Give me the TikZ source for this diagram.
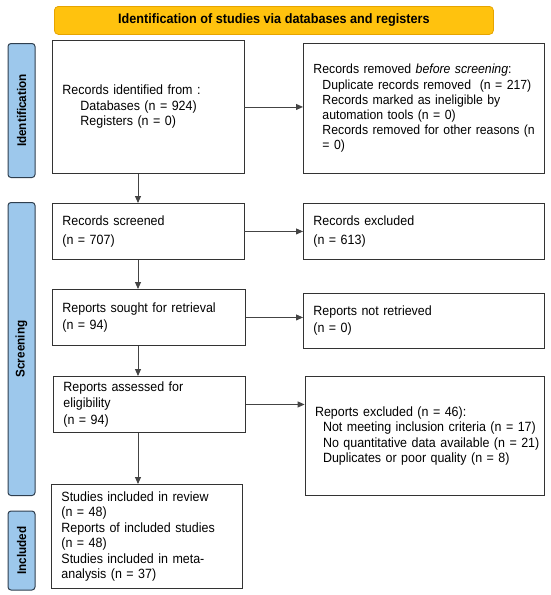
\documentclass[tikz,border=0pt]{standalone}
\usepackage{fontspec}
\setmainfont{Liberation Sans}[FakeStretch=0.93]
\usetikzlibrary{arrows.meta}
\definecolor{bannerfill}{HTML}{FFC20E}
\definecolor{bannerline}{HTML}{E6A400}
\definecolor{sidefill}{HTML}{9DC8EC}
\definecolor{sideline}{HTML}{2F3F4F}
\definecolor{boxline}{HTML}{333333}
\definecolor{arrline}{HTML}{444444}
\tikzset{
  box/.style={draw=boxline, line width=0.9pt, anchor=north west, align=left,
    inner xsep=10pt, inner ysep=0pt, font=\fontsize{13.4}{15.5}\selectfont},
  sidebar/.style={draw=sideline, fill=sidefill, line width=1pt, rounded corners=3pt,
    anchor=north west, minimum width=27pt, inner sep=0pt},
  sidelabel/.style={rotate=90, font=\bfseries\fontsize{12.6}{12}\selectfont},
  banner/.style={draw=bannerline, fill=bannerfill, line width=0.8pt, rounded corners=4pt,
    anchor=north west, minimum width=439pt, minimum height=28pt, inner sep=0pt,
    font=\bfseries\fontsize{13.6}{13}\selectfont},
  arr/.style={draw=arrline, line width=0.9pt, -{Triangle[length=7pt,width=6pt]}, color=arrline}
}
\begin{document}
\begin{tikzpicture}[x=1pt,y=1pt]
\useasboundingbox (0,0) rectangle (550,-595);
% banner
\node[banner] (banner) at (54,-6) {Identification of studies via databases and registers};
% side bars
\node[sidebar, minimum height=134pt] (sid) at (7.5,-43) {};
\node[sidelabel] at (sid.center) {Identification};
\node[sidebar, minimum height=293pt] (sscr) at (7.5,-202) {};
\node[sidelabel] at (sscr.center) {Screening};
\node[sidebar, minimum height=79pt] (sinc) at (7.5,-510.5) {};
\node[sidelabel] at (sinc.center) {Included};
% boxes
\node[box, minimum width=191.5pt, minimum height=133pt, text width=171.5pt] (b1) at (52,-40)
  {Records identified from :\\
   \hspace*{18pt}Databases (n = 924)\\
   \hspace*{18pt}Registers (n = 0)};
\node[box, minimum width=240.5pt, minimum height=130pt, text width=220.5pt,
  font=\fontsize{13.2}{15.2}\selectfont] (b2) at (303,-43)
  {Records removed \textit{before screening}:\\
   \mbox{\hspace*{9pt}Duplicate records removed\ \ (n = 217)}\\
   \hspace*{9pt}Records marked as ineligible by\\
   \hspace*{9pt}automation tools (n = 0)\\
   \mbox{\hspace*{9pt}Records removed for other reasons (n}\\
   \hspace*{9pt}= 0)};
\node[box, minimum width=191.5pt, minimum height=56pt, text width=171.5pt,
  font=\fontsize{13.4}{19}\selectfont] (b3) at (52,-203)
  {Records screened\\(n = 707)};
\node[box, minimum width=240.5pt, minimum height=56pt, text width=220.5pt,
  font=\fontsize{13.4}{19}\selectfont] (b4) at (303,-203)
  {Records excluded\\(n = 613)};
\node[box, minimum width=192.6pt, minimum height=56pt, text width=172.6pt,
  font=\fontsize{13.4}{17}\selectfont] (b5) at (52,-289)
  {Reports sought for retrieval\\(n = 94)};
\node[box, minimum width=240.5pt, minimum height=55pt, text width=220.5pt,
  font=\fontsize{13.4}{17}\selectfont] (b6) at (303,-293)
  {Reports not retrieved\\(n = 0)};
\node[box, minimum width=191.6pt, minimum height=56pt, text width=171.6pt,
  font=\fontsize{13.4}{16.5}\selectfont] (b7) at (53,-376)
  {Reports assessed for\\eligibility\\(n = 94)};
\node[box, minimum width=239.4pt, minimum height=119pt, text width=219.4pt] (b8) at (304.6,-376)
  {Reports excluded (n = 46):\\
   \mbox{\hspace*{8pt}Not meeting inclusion criteria (n = 17)}\\
   \mbox{\hspace*{8pt}No quantitative data available (n = 21)}\\
   \hspace*{8pt}Duplicates or poor quality (n = 8)};
\node[box, minimum width=191pt, minimum height=104pt, text width=171pt] (b9) at (51,-484)
  {Studies included in review\\(n = 48)\\Reports of included studies\\(n = 48)\\Studies included in meta-\\analysis (n = 37)};
% arrows
\coordinate (ax) at (138,0);
\draw[arr] (b1.south -| ax) -- (b3.north -| ax);
\draw[arr] (b3.south -| ax) -- (b5.north -| ax);
\draw[arr] (b5.south -| ax) -- (b7.north -| ax);
\draw[arr] (b7.south -| ax) -- (b9.north -| ax);
\draw[arr] (b1.east) -- (b1.east -| b2.west);
\draw[arr] (b3.east) -- (b3.east -| b4.west);
\draw[arr] (b5.east) -- (b5.east -| b6.west);
\draw[arr] (b7.east) -- (b7.east -| b8.west);
\end{tikzpicture}
\end{document}
